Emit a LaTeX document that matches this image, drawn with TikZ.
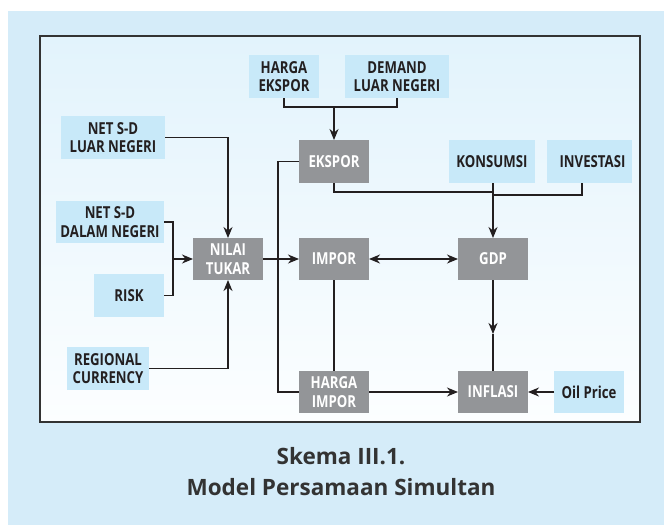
\documentclass[tikz,border=0pt]{standalone}
\usepackage{fontspec}
\setmainfont{Open Sans}
\newfontfamily\boxfont[FakeStretch=0.8]{Open Sans}
\usetikzlibrary{arrows.meta}
\definecolor{bgblue}{HTML}{D5ECF9}
\definecolor{frametop}{HTML}{E2F3FC}
\definecolor{framebot}{HTML}{FCFEFF}
\definecolor{lightbox}{HTML}{C8E9F9}
\definecolor{graybox}{HTML}{939598}
\definecolor{ink}{HTML}{231F20}
\definecolor{titleink}{HTML}{333333}
\tikzset{
  basebox/.style={inner sep=0pt, outer sep=0pt, minimum height=43pt, align=center,
    font=\boxfont\bfseries\fontsize{16.5}{18.5}\selectfont},
  lbox/.style={basebox, fill=lightbox, text=ink},
  gbox/.style={basebox, fill=graybox, text=white},
  conn/.style={draw=ink, line width=1.2pt},
  tipA/.tip={Stealth[length=11pt,width=9pt,inset=3.5pt]},
  arr/.style={conn, -tipA},
  darr/.style={conn, tipA-tipA},
  titletext/.style={inner sep=0pt, anchor=base, text=titleink, font=\bfseries\fontsize{22.5}{27}\selectfont}
}
\begin{document}
\begin{tikzpicture}[x=1pt,y=-1pt]
\useasboundingbox (0,0) rectangle (664,525);
% background panel
\fill[bgblue] (8,11) rectangle (664,525);
\shade[top color=frametop, bottom color=framebot] (40,36) rectangle (640,422);
\draw[draw=titleink, line width=1.5pt] (40,36) rectangle (640,422);

% nodes
\node[lbox, minimum width=70pt]  (hargaE)  at (284,76.5)  {HARGA\\EKSPOR};
\node[lbox, minimum width=104pt] (demand)  at (397,76.5)  {DEMAND\\LUAR NEGERI};
\node[lbox, minimum width=104pt] (netLN)   at (113,137.5) {NET S-D\\LUAR NEGERI};
\node[gbox, minimum width=70pt]  (ekspor)  at (334,161.5) {EKSPOR};
\node[lbox, minimum width=86pt]  (kons)    at (492,161.5) {KONSUMSI};
\node[lbox, minimum width=85pt]  (inv)     at (589.5,161.5) {\hspace*{6pt}INVESTASI};
\node[lbox, minimum width=108pt, minimum height=42pt] (netDN) at (110,222) {NET S-D\\DALAM NEGERI};
\node[gbox, minimum width=70pt, minimum height=42pt]  (nilai)  at (228,259) {NILAI\\TUKAR};
\node[gbox, minimum width=70pt, minimum height=42pt]  (impor)  at (334,259) {IMPOR};
\node[gbox, minimum width=70pt, minimum height=42pt]  (gdp)    at (493,259) {GDP};
\node[lbox, minimum width=70pt]  (risk)    at (129,295.5) {RISK};
\node[lbox, minimum width=82pt]  (regional) at (108,368.5) {REGIONAL\\CURRENCY};
\node[gbox, minimum width=70pt, minimum height=42pt]  (hargaI)  at (334,392) {HARGA\\IMPOR};
\node[gbox, minimum width=70pt, minimum height=42pt]  (inflasi) at (493,392) {INFLASI};
\node[lbox, minimum width=70pt, minimum height=42pt]  (oil)     at (589,392) {Oil Price};

% junction coordinates
\coordinate (jE)  at (334,107);
\coordinate (eL)  at (278,161.5);
\coordinate (jG)  at (493,192);
\coordinate (iS)  at (582,183);
\coordinate (jG2) at (493,195);
\coordinate (jB)  at (173,259);
\coordinate (gM)  at (493,334);

% connectors
\draw[conn] (hargaE.south) |- (jE) -| (demand.south);
\draw[arr] (jE) -- (ekspor.north);
\draw[conn] (ekspor.west) -- (eL) |- (hargaI.west);
\draw[conn] (ekspor.south) |- (jG);
\draw[conn] (iS) |- (jG2);
\draw[arr] (kons.south -| gdp.north) -- (gdp.north);
\draw[arr] (netLN.east) -| (nilai.north);
\draw[conn] (netDN.east) -| (jB);
\draw[conn] (risk.east) -| (jB);
\draw[arr] (jB) -- (nilai.west);
\draw[arr] (regional.east) -| (nilai.south);
\draw[arr] (nilai.east) -- (impor.west);
\draw[darr] (impor.east) -- (gdp.west);
\draw[conn] (impor.south) -- (hargaI.north);
\draw[arr] (gdp.south) -- (gM);
\draw[conn] (gM) -- (inflasi.north);
\draw[arr] (hargaI.east) -- (inflasi.west);
\draw[arr] (oil.west) -- (inflasi.east);

% title
\node[titletext] (t1) at (341,464) {Skema III.1.};
\node[titletext] (t2) at (341,495) {Model Persamaan Simultan};
\end{tikzpicture}
\end{document}
